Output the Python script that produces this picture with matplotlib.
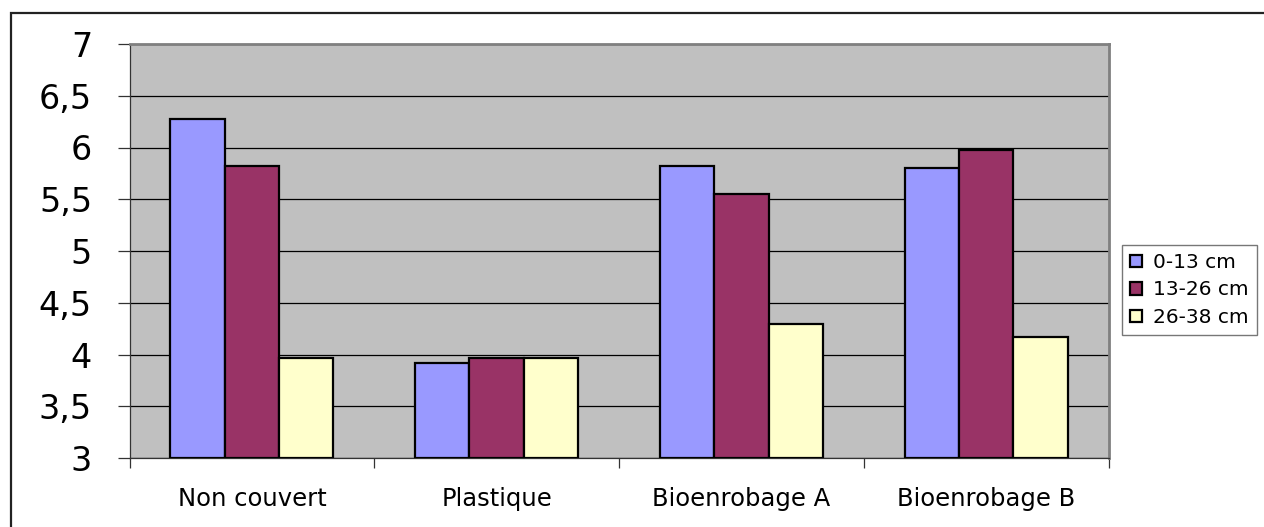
import matplotlib
matplotlib.use("Agg")
import matplotlib.pyplot as plt
from matplotlib.patches import Rectangle
from matplotlib.ticker import FuncFormatter, MultipleLocator
import numpy as np

categories = ["Non couvert", "Plastique", "Bioenrobage A", "Bioenrobage B"]
series_names = ["0-13 cm", "13-26 cm", "26-38 cm"]
s_0_13 = [6.28, 3.92, 5.82, 5.80]
s_13_26 = [5.82, 3.97, 5.55, 5.98]
s_26_38 = [3.97, 3.97, 4.29, 4.17]
colors = ["#9999FF", "#993366", "#FFFFCC"]

plt.rcParams['font.family'] = ['DejaVu Sans']

W, H = 1264, 527
fig = plt.figure(figsize=(W / 100, H / 100), dpi=100)

# outer chart border (only top and left edges visible in the crop)
fig.patches.append(Rectangle((11 / W, -0.2), 1.5, 1.2 - 12.5 / H, transform=fig.transFigure,
                             fill=False, edgecolor="#222222", linewidth=1.6, zorder=0))

left, right, top, bottom = 129.5, 1108.5, 44, 458
ax = fig.add_axes([left / W, 1 - bottom / H, (right - left) / W, (bottom - top) / H])
ax.set_facecolor("#C0C0C0")

x = np.arange(len(categories))
bw = 1 / 4.5
for i, (vals, c, name) in enumerate(zip([s_0_13, s_13_26, s_26_38], colors, series_names)):
    ax.bar(x + (i - 1) * bw, np.array(vals) - 3, bottom=3, width=bw, color=c,
           edgecolor="black", linewidth=1.6, label=name, zorder=3)

ax.set_xlim(-0.5, 3.5)
ax.set_ylim(3, 7)
ax.yaxis.set_major_locator(MultipleLocator(0.5))
ax.yaxis.set_major_formatter(FuncFormatter(lambda v, p: (f"{v:g}").replace(".", ",")))
ax.grid(axis="y", color="black", linewidth=0.9, zorder=1)
ax.set_axisbelow(True)

ax.set_xticks(x)
ax.set_xticklabels(categories, fontsize=17.5)
ax.set_xticks(np.arange(-0.5, 3.6, 1), minor=True)
ax.tick_params(axis="x", which="major", length=0, pad=21)
ax.tick_params(axis="x", which="minor", length=7, width=0.9, color="#333333")
ax.tick_params(axis="y", length=9, width=0.9, color="#333333", labelsize=24, pad=18)

for s in ["top", "right"]:
    ax.spines[s].set_color("#808080")
    ax.spines[s].set_linewidth(2)
ax.spines["left"].set_color("#333333")
ax.spines["bottom"].set_color("#333333")
ax.spines["left"].set_linewidth(0.9)
ax.spines["bottom"].set_linewidth(0.9)

leg = ax.legend(loc="center left", bbox_to_anchor=(1122 / W, 1 - 290 / H), bbox_transform=fig.transFigure,
                fontsize=14.5, frameon=True, fancybox=False, edgecolor="#555555",
                handlelength=0.6, handleheight=0.56, handletextpad=0.55, borderpad=0.4,
                labelspacing=0.42, borderaxespad=0)
leg.get_frame().set_linewidth(1.0)
for h in leg.legend_handles:
    h.set_linewidth(1.6)

fig.savefig("out.png", dpi=100)
